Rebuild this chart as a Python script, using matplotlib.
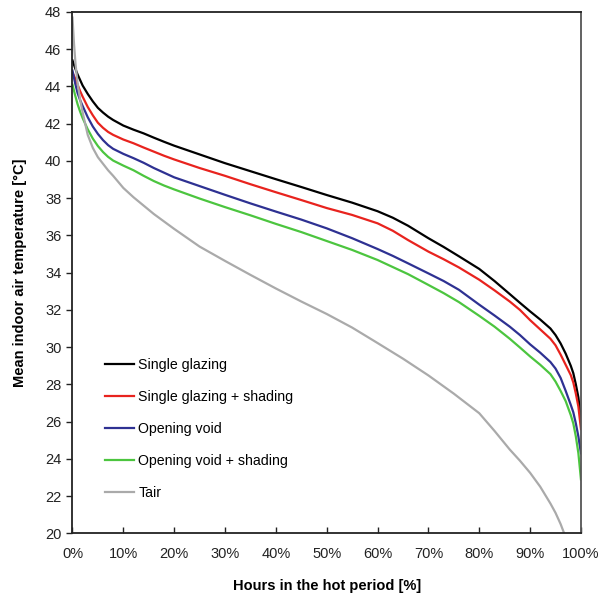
import matplotlib
matplotlib.use("Agg")
import matplotlib.pyplot as plt
from matplotlib.ticker import FuncFormatter, MultipleLocator

plt.rcParams['font.family'] = ['Liberation Sans', 'DejaVu Sans']

hours = [0, 0.5, 1, 1.5, 2, 3, 4, 5, 6, 7, 8, 10, 12, 14, 16, 18, 20, 25, 30, 35, 40, 45,
         50, 55, 60, 63, 66, 70, 73, 76, 80, 83, 86, 88, 90, 92, 94, 95, 96, 97, 98, 98.5,
         99, 99.5, 100]
single_glazing = [45.4, 45.0, 44.65, 44.35, 44.05, 43.6, 43.2, 42.85, 42.6, 42.38, 42.2, 41.9,
                  41.68, 41.48, 41.25, 41.03, 40.82, 40.35, 39.88, 39.45, 39.02, 38.6, 38.17,
                  37.76, 37.3, 36.95, 36.52, 35.85, 35.38, 34.88, 34.2, 33.55, 32.85, 32.38,
                  31.92, 31.48, 31.0, 30.65, 30.2, 29.65, 29.0, 28.6, 28.0, 27.3, 26.1]
single_glazing_shading = [44.75, 44.45, 44.1, 43.75, 43.45, 42.9, 42.45, 42.05, 41.78, 41.56,
                          41.4, 41.15, 40.95, 40.72, 40.5, 40.28, 40.08, 39.62, 39.2, 38.75,
                          38.32, 37.9, 37.47, 37.1, 36.65, 36.25, 35.75, 35.13, 34.72, 34.28,
                          33.62, 33.05, 32.45, 32.0, 31.45, 30.95, 30.45, 30.1, 29.6, 29.05,
                          28.5, 28.1, 27.5, 26.8, 25.6]
opening_void = [44.85, 44.2, 43.65, 43.27, 42.95, 42.35, 41.85, 41.45, 41.12, 40.85, 40.65,
                40.38, 40.15, 39.9, 39.62, 39.37, 39.12, 38.65, 38.18, 37.72, 37.28, 36.85,
                36.38, 35.85, 35.27, 34.9, 34.5, 33.96, 33.55, 33.08, 32.28, 31.7, 31.1,
                30.65, 30.15, 29.7, 29.2, 28.85, 28.35, 27.65, 26.9, 26.5, 25.9, 25.2, 24.3]
opening_void_shading = [44.1, 43.55, 43.05, 42.65, 42.3, 41.7, 41.2, 40.8, 40.48, 40.22, 40.02,
                        39.75, 39.5, 39.2, 38.92, 38.68, 38.47, 37.98, 37.52, 37.08, 36.62,
                        36.18, 35.7, 35.22, 34.68, 34.3, 33.92, 33.34, 32.9, 32.42, 31.68,
                        31.1, 30.45, 29.98, 29.5, 29.05, 28.55, 28.15, 27.65, 27.1, 26.35,
                        25.9, 25.2, 24.3, 22.9]

hours_air = [0, 0.3, 0.6, 1, 1.5, 2, 3, 4, 5, 6, 7, 8, 10, 12, 14, 16, 18, 20, 25, 30, 35,
             40, 45, 50, 55, 60, 65, 70, 75, 80, 83, 86, 88, 90, 92, 94, 95, 96, 96.7]
tair = [47.7, 46.3, 45.2, 44.2, 43.3, 42.6, 41.4, 40.7, 40.2, 39.85, 39.5, 39.2, 38.55, 38.05,
        37.6, 37.15, 36.75, 36.35, 35.4, 34.63, 33.88, 33.15, 32.45, 31.78, 31.05, 30.22,
        29.38, 28.48, 27.5, 26.45, 25.5, 24.5, 23.9, 23.25, 22.5, 21.6, 21.1, 20.5, 20.0]

labels = ["Single glazing", "Single glazing + shading", "Opening void",
          "Opening void + shading", "Tair"]
colors = ["#000000", "#e8231e", "#2e3192", "#4cc53f", "#aaaaaa"]

fig = plt.figure(figsize=(6.02, 5.97), dpi=100)
ax = fig.add_axes([0.1204, 0.1067, 0.8446, 0.8732])

series = [(hours, single_glazing), (hours, single_glazing_shading), (hours, opening_void),
          (hours, opening_void_shading), (hours_air, tair)]
for (xs, ys), lab, col in zip(series, labels, colors):
    ax.plot(xs, ys, color=col, lw=1.6, label=lab)

ax.set_xlim(0, 100)
ax.set_ylim(20, 48)
ax.xaxis.set_major_locator(MultipleLocator(10))
ax.yaxis.set_major_locator(MultipleLocator(2))
ax.xaxis.set_major_formatter(FuncFormatter(lambda v, p: f"{int(round(v))}%"))
ax.tick_params(axis='x', direction='in', length=4, width=1, labelsize=10.5, pad=10, colors='#222222')
ax.tick_params(axis='y', direction='out', length=4, width=1, labelsize=10.5, pad=4, colors='#222222')
for s in ax.spines.values():
    s.set_linewidth(1.3)
    s.set_color('#222222')
ax.spines['right'].set_color('#555555')

ax.set_xlabel("Hours in the hot period [%]", fontsize=10.5, fontweight='bold', labelpad=13)
ax.set_ylabel("Mean indoor air temperature [\u00b0C]", fontsize=10.5, fontweight='bold', labelpad=13)

ax.legend(loc='upper left', bbox_to_anchor=(0.053, 0.348), frameon=False, fontsize=10.2,
          handlelength=2.05, handletextpad=0.3, labelspacing=1.28, borderaxespad=0)

fig.savefig("out.png", dpi=100)
